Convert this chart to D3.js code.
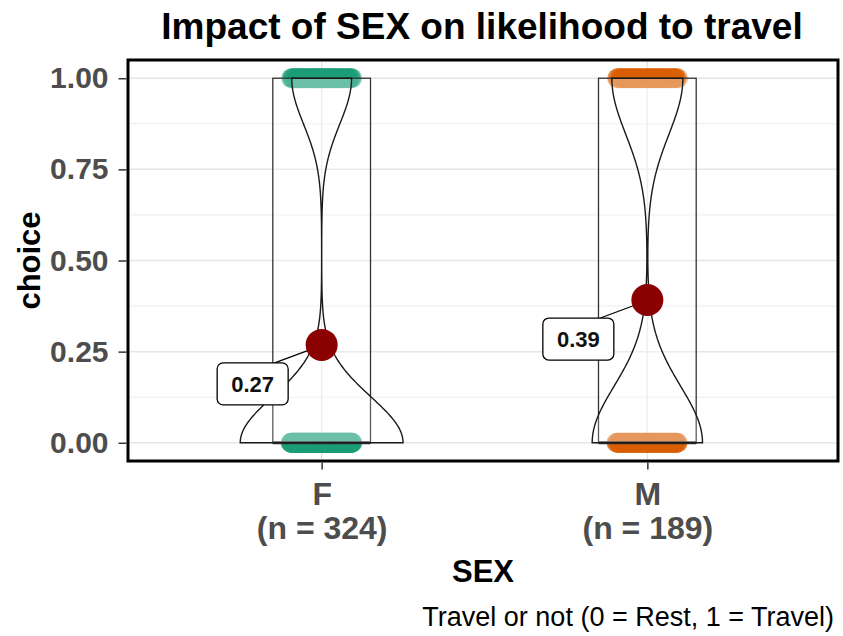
<!DOCTYPE html>
<html>
<head>
<meta charset="utf-8">
<script src="https://cdn.jsdelivr.net/npm/d3@7"></script>
<style>
  body { margin: 0; background: #fff; }
  text { font-family: "Liberation Sans", Arial, sans-serif; }
</style>
</head>
<body>
<div id="chart"></div>
<script>
// groups and counts (choice: 0 = Rest, 1 = Travel)
var groups = ['F', 'M'];
var groupN = [324, 189];
var travelCount = [87, 74];
var groupColors = ['#1B9E77', '#D95F02'];
var yTicks = [0, 0.25, 0.5, 0.75, 1];
var yMinor = [0.125, 0.375, 0.625, 0.875];

var width = 843,
    height = 636,
    margin = { left: 128, right: 5, top: 60, bottom: 175 };

var panelW = width - margin.left - margin.right;
var panelH = height - margin.top - margin.bottom;

var svg = d3.select('#chart').append('svg')
    .attr('width', width)
    .attr('height', height);

var xScale = d3.scalePoint()
    .domain(groups)
    .range([margin.left + 1.5, margin.left + panelW + 1.5])
    .padding(0.59);
var step = xScale.step();

var yScale = d3.scaleLinear()
    .domain([-0.05, 1.05])
    .range([margin.top + panelH, margin.top]);

// build one record per group
var data = groups.map(function(g, i) {
  var n = groupN[i], n1 = travelCount[i], n0 = n - n1;
  var mean = n1 / n;
  var sd = Math.sqrt((n1 * (1 - mean) * (1 - mean) + n0 * mean * mean) / (n - 1));
  // quantiles of a 0/1 sample
  var q1 = n0 / n > 0.25 ? 0 : 1;
  var q3 = n0 / n > 0.75 ? 0 : 1;
  var med = n0 / n >= 0.5 ? 0 : 1;
  var bw = 0.9 * Math.min(sd, (q3 - q1) / 1.34) * Math.pow(n, -0.2);
  return { name: g, n: n, n0: n0, n1: n1, mean: mean, q1: q1, q3: q3, med: med, bw: bw, color: groupColors[i] };
});

// gaussian kernel density on [0, 1] (trimmed violin)
function kde(d) {
  var ys = d3.range(0, 1.0001, 1 / 200);
  return ys.map(function(y) {
    var k0 = Math.exp(-0.5 * Math.pow(y / d.bw, 2));
    var k1 = Math.exp(-0.5 * Math.pow((y - 1) / d.bw, 2));
    var dens = (d.n0 * k0 + d.n1 * k1) / (d.n * d.bw * Math.sqrt(2 * Math.PI));
    return [y, dens];
  });
}
data.forEach(function(d) { d.density = kde(d); });
var maxDens = d3.max(data, function(d) { return d3.max(d.density, function(p) { return p[1]; }); });
var violinHalf = d3.scaleLinear().domain([0, maxDens]).range([0, 0.25 * step]);

// grid
var grid = svg.append('g').attr('class', 'grid');
grid.selectAll('line.minor').data(yMinor).enter().append('line')
    .attr('x1', margin.left).attr('x2', margin.left + panelW)
    .attr('y1', yScale).attr('y2', yScale)
    .attr('stroke', '#EBEBEB').attr('stroke-width', 1);
grid.selectAll('line.majory').data(yTicks).enter().append('line')
    .attr('x1', margin.left).attr('x2', margin.left + panelW)
    .attr('y1', yScale).attr('y2', yScale)
    .attr('stroke', '#E6E6E6').attr('stroke-width', 1.5);
grid.selectAll('line.majorx').data(groups).enter().append('line')
    .attr('y1', margin.top).attr('y2', margin.top + panelH)
    .attr('x1', xScale).attr('x2', xScale)
    .attr('stroke', '#E6E6E6').attr('stroke-width', 1.5);

var chartG = svg.append('g').attr('class', 'chartG');

// jittered raw points (deterministic spread)
var jitter = 0.095 * step;
data.forEach(function(d) {
  var pts = [];
  for (var i = 0; i < d.n; i++) {
    var off = ((i * 0.6180339887) % 1) * 2 - 1;
    pts.push({ x: xScale(d.name) + off * jitter, y: i < d.n0 ? 0 : 1 });
  }
  chartG.append('g').selectAll('circle').data(pts).enter().append('circle')
      .attr('cx', function(p) { return p.x; })
      .attr('cy', function(p) { return yScale(p.y); })
      .attr('r', 10)
      .attr('fill', d.color)
      .attr('fill-opacity', 0.4);
});

// boxplots
var boxW = 0.3 * step;
var boxG = chartG.selectAll('g.box').data(data).enter().append('g').attr('class', 'box');
boxG.append('rect')
    .attr('x', function(d) { return xScale(d.name) - boxW / 2; })
    .attr('y', function(d) { return yScale(d.q3); })
    .attr('width', boxW)
    .attr('height', function(d) { return yScale(d.q1) - yScale(d.q3); })
    .attr('fill', '#fff').attr('fill-opacity', 0.2)
    .attr('stroke', '#333').attr('stroke-width', 1.3);
boxG.append('line')
    .attr('x1', function(d) { return xScale(d.name) - boxW / 2; })
    .attr('x2', function(d) { return xScale(d.name) + boxW / 2; })
    .attr('y1', function(d) { return yScale(d.med); })
    .attr('y2', function(d) { return yScale(d.med); })
    .attr('stroke', '#333').attr('stroke-width', 3);

// violins
var violinArea = d3.area()
    .y(function(p) { return yScale(p[0]); });
chartG.selectAll('path.violin').data(data).enter().append('path')
    .attr('class', 'violin')
    .attr('d', function(d) {
      var cx = xScale(d.name);
      return violinArea
        .x0(function(p) { return cx - violinHalf(p[1]); })
        .x1(function(p) { return cx + violinHalf(p[1]); })(d.density);
    })
    .attr('fill', '#fff').attr('fill-opacity', 0.2)
    .attr('stroke', '#1a1a1a').attr('stroke-width', 1.4);

// label connectors, mean points, labels
var labelOff = { dx: -69, dy: 39 }, labelW = 71, labelH = 42;
chartG.selectAll('line.connector').data(data).enter().append('line')
    .attr('x1', function(d) { return xScale(d.name) + labelOff.dx + 22; })
    .attr('y1', function(d) { return yScale(d.mean) + labelOff.dy - labelH / 2; })
    .attr('x2', function(d) { return xScale(d.name) - 12; })
    .attr('y2', function(d) { return yScale(d.mean) + 5; })
    .attr('stroke', '#000').attr('stroke-width', 1.2);

chartG.selectAll('circle.mean').data(data).enter().append('circle')
    .attr('cx', function(d) { return xScale(d.name); })
    .attr('cy', function(d) { return yScale(d.mean); })
    .attr('r', 16)
    .attr('fill', '#8B0000');

var lab = chartG.selectAll('g.label').data(data).enter().append('g')
    .attr('class', 'label')
    .attr('transform', function(d) {
      return 'translate(' + (xScale(d.name) + labelOff.dx) + ',' + (yScale(d.mean) + labelOff.dy) + ')';
    });
lab.append('rect')
    .attr('x', -labelW / 2).attr('y', -labelH / 2)
    .attr('width', labelW).attr('height', labelH)
    .attr('rx', 6)
    .attr('fill', '#fff').attr('stroke', '#000').attr('stroke-width', 1.3);
lab.append('text')
    .attr('text-anchor', 'middle')
    .attr('dy', '0.36em')
    .attr('font-size', 22).attr('font-weight', 'bold')
    .attr('fill', '#111')
    .text(function(d) { return d3.format('.2f')(d.mean); });

// panel border
svg.append('rect')
    .attr('x', margin.left).attr('y', margin.top)
    .attr('width', panelW).attr('height', panelH)
    .attr('fill', 'none').attr('stroke', '#000').attr('stroke-width', 3);

// axes
var yAxis = d3.axisLeft(yScale).tickValues(yTicks).tickFormat(d3.format('.2f')).tickSize(8).tickPadding(10);
var gy = svg.append('g').attr('class', 'axis y')
    .attr('transform', 'translate(' + (margin.left - 1.5) + ',0)')
    .call(yAxis);
gy.select('.domain').remove();
gy.selectAll('line').attr('stroke', '#333').attr('stroke-width', 1.5);
gy.selectAll('text').attr('font-size', 30).attr('font-weight', 'bold').attr('fill', '#4D4D4D');

var xAxis = d3.axisBottom(xScale).tickSize(7).tickFormat('');
var gx = svg.append('g').attr('class', 'axis x')
    .attr('transform', 'translate(0,' + (margin.top + panelH + 1.5) + ')')
    .call(xAxis);
gx.select('.domain').remove();
gx.selectAll('line').attr('stroke', '#333').attr('stroke-width', 1.5);
var xt = gx.selectAll('.tick').append('text')
    .attr('text-anchor', 'middle')
    .attr('font-size', 32).attr('font-weight', 'bold').attr('fill', '#4D4D4D');
xt.append('tspan').attr('x', 0).attr('y', 42).text(function(d) { return d; });
xt.append('tspan').attr('x', 0).attr('y', 76).text(function(d, i) { return '(n = ' + groupN[i] + ')'; });

// titles
svg.append('text')
    .attr('x', 482).attr('y', 39)
    .attr('text-anchor', 'middle')
    .attr('font-size', 37).attr('font-weight', 'bold').attr('fill', '#000')
    .text('Impact of SEX on likelihood to travel');

svg.append('text')
    .attr('transform', 'translate(' + 40 + ',' + (margin.top + panelH / 2) + ') rotate(-90)')
    .attr('text-anchor', 'middle')
    .attr('font-size', 31).attr('font-weight', 'bold').attr('fill', '#000')
    .text('choice');

svg.append('text')
    .attr('x', margin.left + panelW / 2).attr('y', 582)
    .attr('text-anchor', 'middle')
    .attr('font-size', 31).attr('font-weight', 'bold').attr('fill', '#000')
    .text('SEX');

svg.append('text')
    .attr('x', 834).attr('y', 626)
    .attr('text-anchor', 'end')
    .attr('font-size', 27).attr('fill', '#000')
    .text('Travel or not (0 = Rest, 1 = Travel)');
</script>
</body>
</html>
